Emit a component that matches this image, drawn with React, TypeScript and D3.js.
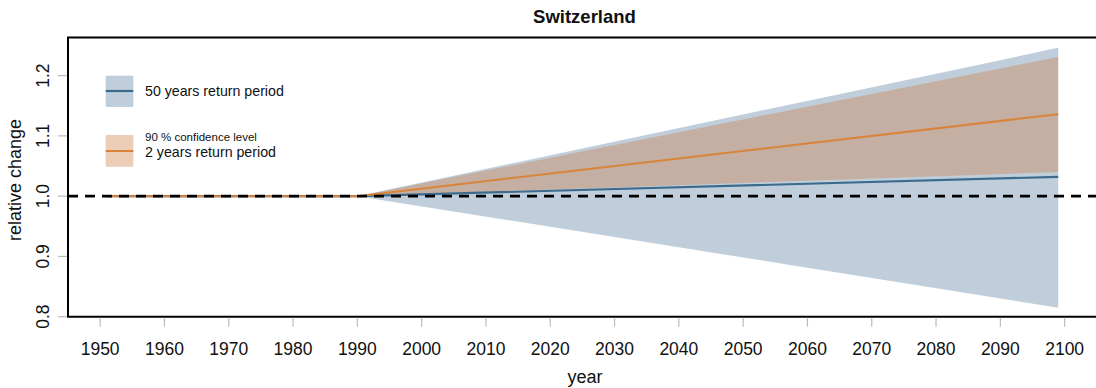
import React from "react";
import * as d3 from "d3";

// Key years of the projection: flat reference period, then divergence
const years = [1951, 1990, 2099];
const rp50Mid = [1.0, 1.0, 1.032];
const rp50Lo = [1.0, 1.0, 0.815];
const rp50Hi = [1.0, 1.0, 1.246];
const rp2Mid = [1.0, 1.0, 1.136];
const rp2Lo = [1.0, 1.0, 1.04];
const rp2Hi = [1.0, 1.0, 1.231];

const xTicks = [1950, 1960, 1970, 1980, 1990, 2000, 2010, 2020, 2030, 2040, 2050, 2060, 2070, 2080, 2090, 2100];
const yTicks = [0.8, 0.9, 1.0, 1.1, 1.2];

const W = 1096;
const H = 388;
const left = 68;
const top = 37.5;
const bottom = 316.7;

const BLUE = "#3d6b8e";
const ORANGE = "#cc834e";
const FONT = "'Liberation Sans', Arial, sans-serif";

export default function App() {
  const x = d3.scaleLinear().domain([1945, 2105]).range([left, left + 160 * 6.43]);
  const y = d3.scaleLinear().domain([0.8, 1.2632]).range([bottom, top]);

  const area = (lo: number[], hi: number[]) =>
    d3
      .area<number>()
      .x((_, i) => x(years[i]))
      .y0((_, i) => y(lo[i]))
      .y1((_, i) => y(hi[i]))(years.map((_, i) => i)) as string;
  const line = (v: number[]) =>
    d3
      .line<number>()
      .x((_, i) => x(years[i]))
      .y((_, i) => y(v[i]))(years.map((_, i) => i)) as string;

  return (
    <svg width={W} height={H} style={{ position: "absolute", left: 0, top: 0, background: "#fff" }} fontFamily={FONT}>
      <text x={584.5} y={22.5} textAnchor="middle" fontWeight="bold" fontSize={18.5} fill="#111">
        Switzerland
      </text>

      {/* confidence bands */}
      <path d={area(rp50Lo, rp50Hi)} fill={BLUE} fillOpacity={0.33} />
      <path d={area(rp2Lo, rp2Hi)} fill={ORANGE} fillOpacity={0.4} />
      <path d={line(rp50Mid)} fill="none" stroke={BLUE} strokeWidth={2.2} />
      <path d={line(rp2Mid)} fill="none" stroke="#d9843a" strokeWidth={2} />

      {/* reference level */}
      <line x1={left} x2={W} y1={y(1)} y2={y(1)} stroke="#000" strokeWidth={2.6} strokeDasharray="10 7" />

      {/* frame */}
      <path d={`M${W + 2},${top} H${left} V${bottom} H${W + 2}`} fill="none" stroke="#000" strokeWidth={2} />

      {/* x axis */}
      {xTicks.map((t) => (
        <g key={t}>
          <line x1={x(t)} x2={x(t)} y1={bottom + 1} y2={bottom + 10} stroke="#bbb" strokeWidth={1.2} />
          <text x={x(t)} y={355} textAnchor="middle" fontSize={17.5} fill="#111">
            {t}
          </text>
        </g>
      ))}
      <text x={585} y={382.5} textAnchor="middle" fontSize={18} fill="#111">
        year
      </text>

      {/* y axis */}
      {yTicks.map((t) => (
        <g key={t}>
          <line x1={58} x2={left - 1} y1={y(t)} y2={y(t)} stroke="#bbb" strokeWidth={1.2} />
          <text
            transform={`translate(49,${y(t)}) rotate(-90)`}
            textAnchor="middle"
            fontSize={17.5}
            fill="#111"
          >
            {t.toFixed(1)}
          </text>
        </g>
      ))}
      <text transform={`translate(21,180) rotate(-90)`} textAnchor="middle" fontSize={18} fill="#111">
        relative change
      </text>

      {/* legend */}
      <rect x={105.7} y={75.7} width={27.6} height={31.3} fill={BLUE} fillOpacity={0.33} rx={1} />
      <line x1={105.7} x2={133.3} y1={91} y2={91} stroke={BLUE} strokeWidth={2.2} />
      <text x={145} y={96} fontSize={14.2} fill="#111">
        50 years return period
      </text>
      <rect x={105.7} y={135} width={27.6} height={31.7} fill={ORANGE} fillOpacity={0.4} rx={1} />
      <line x1={105.7} x2={133.3} y1={151} y2={151} stroke="#d9843a" strokeWidth={2} />
      <text x={145} y={141} fontSize={11.5} fill="#111">
        90 % confidence level
      </text>
      <text x={145} y={157} fontSize={14.2} fill="#111">
        2 years return period
      </text>
    </svg>
  );
}
